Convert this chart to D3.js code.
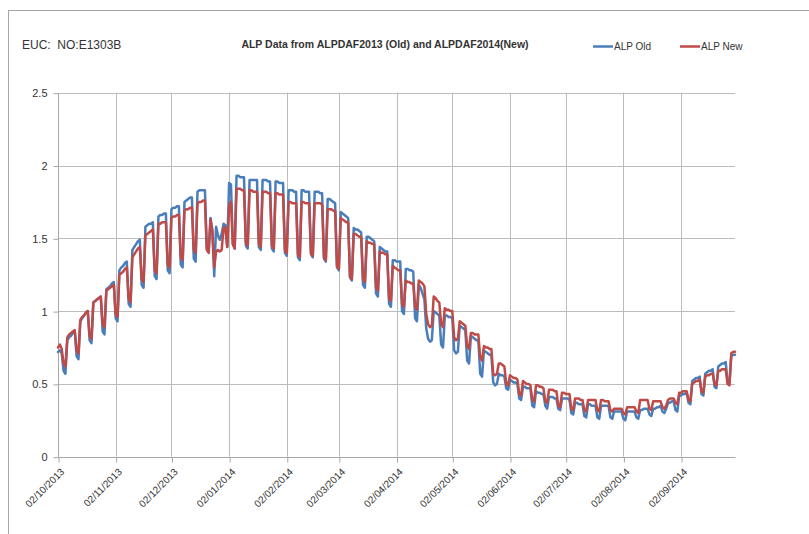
<!DOCTYPE html>
<html>
<head>
<meta charset="utf-8">
<script src="https://cdn.jsdelivr.net/npm/d3@7"></script>
<style>
  html, body { margin: 0; padding: 0; background: #fff; }
  svg { display: block; }
  text { font-family: "Liberation Sans", Arial, sans-serif; fill: #333; }
</style>
</head>
<body>
<svg id="chart" width="809" height="534"></svg>
<script>
// ---- data -------------------------------------------------------------
const startDate = "02/10/2013";   // first daily value (Wednesday)
const tickLabels = ["02/10/2013","02/11/2013","02/12/2013","02/01/2014","02/02/2014","02/03/2014",
                    "02/04/2014","02/05/2014","02/06/2014","02/07/2014","02/08/2014","02/09/2014"];
const yTicks = [0, 0.5, 1, 1.5, 2, 2.5];
const seriesNames = ["ALP Old", "ALP New"];

// daily ALP values, 02/10/2013 .. 01/10/2014
const alpOld = [
 0.72,0.73,0.71,0.59,0.57,
 0.80,0.82,0.83,0.85,0.86,0.69,0.67,
 0.93,0.95,0.97,0.99,1.00,0.80,0.78,
 1.06,1.07,1.08,1.09,1.10,0.86,0.84,
 1.15,1.16,1.17,1.19,1.20,0.95,0.93,
 1.28,1.30,1.31,1.33,1.34,1.05,1.03,
 1.42,1.44,1.46,1.48,1.49,1.18,1.16,
 1.58,1.59,1.60,1.60,1.61,1.24,1.22,
 1.65,1.66,1.66,1.67,1.67,1.28,1.26,
 1.70,1.71,1.71,1.72,1.72,1.32,1.30,
 1.75,1.76,1.77,1.78,1.78,1.36,1.34,
 1.82,1.83,1.83,1.83,1.83,1.43,1.41,
 1.64,1.55,1.24,1.58,1.52,1.49,1.53,1.60,1.59,1.44,1.88,1.87,1.46,1.43,
 1.93,1.93,1.92,1.92,1.92,1.45,1.43,
 1.90,1.90,1.90,1.90,1.90,1.44,1.42,
 1.90,1.90,1.90,1.89,1.89,1.43,1.41,
 1.89,1.89,1.88,1.88,1.88,1.40,1.38,
 1.83,1.83,1.83,1.82,1.82,1.37,1.35,
 1.83,1.83,1.82,1.82,1.82,1.39,1.37,
 1.82,1.82,1.82,1.81,1.81,1.36,1.34,
 1.77,1.77,1.76,1.75,1.74,1.30,1.28,
 1.68,1.67,1.66,1.65,1.64,1.23,1.21,
 1.57,1.56,1.56,1.55,1.54,1.18,1.16,
 1.51,1.51,1.50,1.49,1.48,1.12,1.10,
 1.44,1.43,1.42,1.41,1.41,1.05,1.03,
 1.35,1.35,1.34,1.34,1.34,1.00,0.98,
 1.29,1.29,1.28,1.28,1.27,0.95,0.93,
 1.18,1.16,1.12,1.08,0.88,0.81,0.79,0.80,
 1.00,0.99,0.98,0.97,0.77,0.75,
 0.97,0.97,0.96,0.96,0.95,0.73,0.71,0.72,
 0.90,0.89,0.88,0.87,0.66,0.64,
 0.83,0.82,0.81,0.80,0.80,0.57,0.55,
 0.73,0.72,0.71,0.70,0.70,0.51,0.49,0.50,
 0.57,0.56,0.56,0.55,0.47,0.46,
 0.53,0.52,0.51,0.51,0.50,0.40,0.39,
 0.48,0.48,0.47,0.47,0.47,0.35,0.34,
 0.45,0.44,0.44,0.43,0.43,0.35,0.33,
 0.41,0.41,0.41,0.40,0.40,0.33,0.32,
 0.40,0.40,0.40,0.40,0.39,0.30,0.29,
 0.37,0.37,0.36,0.36,0.36,0.28,0.27,
 0.36,0.36,0.35,0.35,0.35,0.27,0.26,
 0.35,0.35,0.35,0.35,0.35,0.27,0.26,
 0.31,0.31,0.31,0.31,0.31,0.26,0.25,
 0.31,0.31,0.31,0.31,0.31,0.27,0.26,
 0.32,0.32,0.33,0.33,0.33,0.29,0.28,
 0.33,0.33,0.34,0.34,0.35,0.31,0.30,
 0.33,0.37,0.37,0.38,0.38,0.32,0.31,
 0.42,0.42,0.43,0.43,0.44,0.37,0.36,
 0.52,0.53,0.54,0.54,0.55,0.43,0.42,
 0.57,0.58,0.59,0.59,0.60,0.48,0.47,
 0.62,0.63,0.64,0.64,0.65,0.51,0.50,
 0.69,0.70,0.70
];
const alpNew = [
 0.75,0.77,0.74,0.64,0.62,
 0.82,0.84,0.85,0.86,0.87,0.73,0.71,
 0.94,0.96,0.97,0.99,1.00,0.83,0.81,
 1.06,1.07,1.08,1.09,1.10,0.91,0.89,
 1.14,1.15,1.16,1.17,1.18,0.98,0.96,
 1.25,1.26,1.27,1.29,1.30,1.08,1.06,
 1.37,1.39,1.41,1.43,1.44,1.22,1.20,
 1.52,1.53,1.54,1.55,1.56,1.28,1.26,
 1.60,1.60,1.61,1.61,1.61,1.32,1.30,
 1.64,1.65,1.65,1.66,1.66,1.37,1.35,
 1.69,1.70,1.70,1.71,1.71,1.42,1.40,
 1.74,1.75,1.75,1.76,1.76,1.42,1.40,
 1.63,1.55,1.30,1.41,1.42,1.41,1.42,1.57,1.57,1.44,1.72,1.75,1.46,1.43,
 1.84,1.84,1.84,1.83,1.83,1.47,1.45,
 1.83,1.83,1.82,1.82,1.82,1.46,1.44,
 1.82,1.82,1.82,1.81,1.81,1.45,1.43,
 1.81,1.81,1.80,1.80,1.80,1.42,1.40,
 1.75,1.75,1.74,1.74,1.74,1.39,1.37,
 1.75,1.75,1.74,1.74,1.74,1.40,1.38,
 1.74,1.74,1.74,1.74,1.73,1.37,1.35,
 1.70,1.70,1.70,1.69,1.69,1.31,1.29,
 1.64,1.63,1.62,1.61,1.61,1.24,1.22,
 1.53,1.53,1.52,1.51,1.51,1.22,1.20,
 1.48,1.47,1.47,1.46,1.46,1.16,1.14,
 1.41,1.40,1.40,1.39,1.39,1.09,1.07,
 1.31,1.30,1.29,1.28,1.28,1.05,1.03,
 1.21,1.20,1.20,1.19,1.19,1.03,1.01,
 1.21,1.20,1.19,1.17,0.98,0.91,0.89,0.90,
 1.10,1.09,1.07,1.06,0.91,0.89,
 1.02,1.01,1.01,1.00,1.00,0.82,0.80,0.81,
 0.93,0.92,0.91,0.90,0.76,0.74,
 0.85,0.85,0.84,0.84,0.84,0.68,0.66,
 0.76,0.75,0.75,0.74,0.74,0.57,0.56,0.57,
 0.64,0.64,0.63,0.62,0.50,0.49,
 0.56,0.55,0.54,0.54,0.53,0.43,0.42,
 0.52,0.51,0.50,0.50,0.49,0.39,0.38,
 0.49,0.49,0.48,0.48,0.47,0.38,0.37,
 0.46,0.46,0.46,0.45,0.45,0.35,0.34,
 0.44,0.44,0.43,0.43,0.43,0.33,0.32,
 0.40,0.40,0.40,0.39,0.39,0.32,0.31,
 0.39,0.39,0.39,0.39,0.39,0.32,0.31,
 0.39,0.39,0.38,0.38,0.38,0.32,0.31,
 0.33,0.33,0.33,0.33,0.33,0.30,0.29,
 0.34,0.34,0.34,0.34,0.34,0.31,0.30,
 0.39,0.39,0.39,0.39,0.39,0.33,0.32,
 0.38,0.38,0.38,0.38,0.38,0.34,0.33,
 0.35,0.39,0.40,0.40,0.40,0.37,0.36,
 0.44,0.44,0.45,0.45,0.45,0.39,0.38,
 0.50,0.51,0.52,0.52,0.53,0.45,0.44,
 0.55,0.56,0.56,0.57,0.57,0.50,0.49,
 0.59,0.59,0.60,0.60,0.60,0.50,0.49,
 0.71,0.72,0.72
];

// ---- chart ------------------------------------------------------------
const parse = d3.timeParse("%d/%m/%Y");
const t0 = parse(startDate);
const dates = alpOld.map((_, i) => d3.timeDay.offset(t0, i));
const tickDates = tickLabels.map(parse);

const svg = d3.select("#chart");
const plot = { left: 58, right: 735, top: 92.7, bottom: 456.7 };

const x = d3.scaleTime()
  .domain([t0, dates[dates.length - 1]])
  .range([plot.left, plot.right]);
const y = d3.scaleLinear().domain([0, 2.5]).range([plot.bottom, plot.top]);

// chart-area border (left and top visible)
svg.append("rect")
  .attr("x", 8.5).attr("y", 10.5).attr("width", 900).attr("height", 700)
  .attr("fill", "none").attr("stroke", "#a6a6a6").attr("stroke-width", 1);

// horizontal gridlines
svg.append("g")
  .selectAll("line").data(yTicks.filter(v => v > 0)).join("line")
  .attr("x1", plot.left).attr("x2", plot.right)
  .attr("y1", d => Math.round(y(d)) + 0.5).attr("y2", d => Math.round(y(d)) + 0.5)
  .attr("stroke", "#bcbcbc").attr("stroke-width", 1);

// vertical gridlines
svg.append("g")
  .selectAll("line").data(tickDates.slice(1)).join("line")
  .attr("x1", d => Math.round(x(d)) + 0.5).attr("x2", d => Math.round(x(d)) + 0.5)
  .attr("y1", plot.top).attr("y2", plot.bottom)
  .attr("stroke", "#bcbcbc").attr("stroke-width", 1);

// y axis
const yAxis = d3.axisLeft(y).tickValues(yTicks).tickSize(5).tickPadding(6)
  .tickFormat(d3.format("~g"));
const gy = svg.append("g").attr("transform", `translate(${plot.left + 0.5},0.5)`).call(yAxis);
gy.select(".domain").attr("stroke", "#a6a6a6").attr("d", `M0,${plot.top}V${plot.bottom}`);
gy.selectAll(".tick line").attr("stroke", "#a6a6a6");
gy.selectAll(".tick text").attr("font-size", 11).attr("fill", "#404040")
  .attr("font-family", "'Liberation Sans', Arial, sans-serif");

// x axis
const xAxis = d3.axisBottom(x).tickValues(tickDates).tickSize(5)
  .tickFormat(d3.timeFormat("%d/%m/%Y"));
const gx = svg.append("g").attr("transform", `translate(0.5,${Math.round(plot.bottom) + 0.5})`).call(xAxis);
gx.select(".domain").attr("stroke", "#a6a6a6").attr("d", `M${plot.left},0H${plot.right}`);
gx.selectAll(".tick line").attr("stroke", "#a6a6a6");
gx.selectAll(".tick text")
  .attr("font-size", 10).attr("fill", "#404040")
  .attr("font-family", "'Liberation Sans', Arial, sans-serif")
  .attr("text-anchor", "end")
  .attr("dy", 0)
  .attr("y", 0)
  .attr("transform", "translate(6,15) rotate(-45)");

// lines
const line = vals => d3.line()
  .x((d, i) => x(dates[i]))
  .y(d => y(d))(vals);

const colors = ["#4a7ebb", "#be4b48"];
[alpOld, alpNew].forEach((vals, k) => {
  svg.append("path")
    .attr("d", line(vals))
    .attr("fill", "none")
    .attr("stroke", colors[k])
    .attr("stroke-width", 2.5)
    .attr("stroke-linejoin", "round")
    .attr("stroke-linecap", "round");
});

// header texts
svg.append("text").attr("x", 22).attr("y", 49)
  .attr("font-size", 12).attr("fill", "#222")
  .style("white-space", "pre")
  .text("EUC:  NO:E1303B");

svg.append("text").attr("x", 385).attr("y", 48)
  .attr("text-anchor", "middle").attr("font-size", 10.5).attr("font-weight", "bold").attr("fill", "#111")
  .text("ALP Data from ALPDAF2013 (Old) and ALPDAF2014(New)");

// legend
const legendX = [593, 680];
seriesNames.forEach((name, k) => {
  svg.append("line")
    .attr("x1", legendX[k]).attr("x2", legendX[k] + 20)
    .attr("y1", 46.5).attr("y2", 46.5)
    .attr("stroke", colors[k]).attr("stroke-width", 2.5);
  svg.append("text").attr("x", legendX[k] + 21).attr("y", 50)
    .attr("font-size", 10).attr("fill", "#333").text(name);
});
</script>
</body>
</html>
